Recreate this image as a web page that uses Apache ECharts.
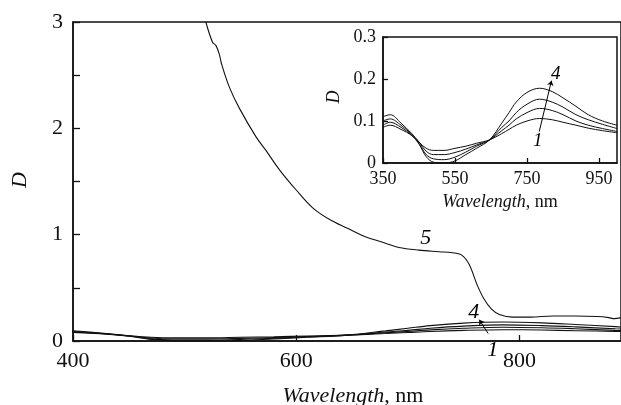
<!DOCTYPE html>
<html><head><meta charset="utf-8">
<script src="https://cdn.jsdelivr.net/npm/echarts@6/dist/echarts.min.js"></script>
<style>html,body{margin:0;padding:0;background:#fff}#c{width:621px;height:405px}</style>
</head><body><div id="c"></div>
<script>
// Curves 1-4 (shared wavelength grid), nm and optical density D
const wl14 = [350,370,400,430,450,470,490,520,550,580,610,646,680,700,720,750,785,820,850,886,920,960,1000];
const curve1 = [0.11,0.115,0.095,0.07,0.05,0.035,0.03,0.03,0.035,0.04,0.047,0.055,0.07,0.08,0.09,0.10,0.106,0.103,0.097,0.09,0.083,0.077,0.072];
const curve2 = [0.10,0.105,0.09,0.068,0.05,0.028,0.02,0.02,0.025,0.033,0.043,0.055,0.077,0.09,0.105,0.12,0.130,0.125,0.115,0.10,0.09,0.082,0.075];
const curve3 = [0.09,0.097,0.085,0.066,0.047,0.02,0.01,0.008,0.014,0.026,0.04,0.055,0.085,0.10,0.12,0.14,0.152,0.145,0.133,0.115,0.103,0.092,0.082];
const curve4 = [0.085,0.09,0.08,0.065,0.045,0.015,0.002,0.0,0.005,0.02,0.035,0.055,0.095,0.12,0.145,0.168,0.178,0.17,0.155,0.135,0.115,0.10,0.09];
// Curve 5
const wl5 = [519,525,528,531,533,540,549,564,573,585,600,615,632,650,662,680,692,710,728,740,748,755,762,768,775,782,794,810,830,850,870,880,885,891];
const curve5 = [3.0,2.81,2.78,2.70,2.61,2.39,2.19,1.92,1.79,1.61,1.42,1.25,1.13,1.04,0.98,0.92,0.88,0.855,0.84,0.83,0.81,0.72,0.53,0.40,0.30,0.25,0.225,0.225,0.235,0.235,0.23,0.22,0.21,0.22];
// Tick labels
const mainXTicks = [400,600,800];
const mainYTicks = [0,1,2,3];
const insetXTicks = [350,550,750,950];
const insetYTicks = [0,0.1,0.2,0.3];
// Curve labels [wavelength, D, text]
const mainLabels = [[716,0.97,'5'],[759,0.27,'4'],[776,-0.09,'1']];
const insetLabels = [[830,0.212,'4'],[780,0.053,'1']];
const mainArrow = [[772,0.07],[764,0.2]];
const insetArrow = [[784,0.075],[818,0.196]];

const FONT = 'Liberation Serif';
const zip = (xs, ys) => xs.map((x,i)=>[x, ys[i]]);
const curves = [curve1, curve2, curve3, curve4];

const lineStyle = {color:'#111', width:1.1, opacity:1};
const series = [];
curves.forEach(c => {
  series.push({type:'line', xAxisIndex:0, yAxisIndex:0, data:zip(wl14,c), showSymbol:false, smooth:0.35, lineStyle, silent:true, z:3});
});
series.push({type:'line', xAxisIndex:0, yAxisIndex:0, data:zip(wl5,curve5), showSymbol:false, smooth:0.35, lineStyle, silent:true, z:3});
curves.forEach(c => {
  series.push({type:'line', xAxisIndex:1, yAxisIndex:1, data:zip(wl14,c), showSymbol:false, smooth:0.35, lineStyle:{color:'#111', width:1, opacity:1}, silent:true, z:12});
});
series.push({type:'scatter', xAxisIndex:0, yAxisIndex:0, clip:false, symbolSize:0, itemStyle:{opacity:1},
  data: mainLabels.map(l=>({value:[l[0],l[1]], name:l[2]})),
  label:{show:true, position:'inside', formatter:p=>p.name, fontFamily:FONT, fontStyle:'italic', fontSize:22, color:'#000', opacity:1}, z:5});
series.push({type:'scatter', xAxisIndex:1, yAxisIndex:1, clip:false, symbolSize:0, itemStyle:{opacity:1},
  data: insetLabels.map(l=>({value:[l[0],l[1]], name:l[2]})),
  label:{show:true, position:'inside', formatter:p=>p.name, fontFamily:FONT, fontStyle:'italic', fontSize:19, color:'#000', opacity:1}, z:13});
series.push({type:'lines', coordinateSystem:'cartesian2d', xAxisIndex:0, yAxisIndex:0,
  data:[{coords:mainArrow}], symbol:['none','arrow'], symbolSize:5, lineStyle:{color:'#000', width:1, opacity:1}, z:5});
series.push({type:'lines', coordinateSystem:'cartesian2d', xAxisIndex:1, yAxisIndex:1,
  data:[{coords:insetArrow}], symbol:['none','arrow'], symbolSize:5, lineStyle:{color:'#000', width:1, opacity:1}, z:13});

const axLine = {lineStyle:{color:'#111', width:1.5}};
const chart = echarts.init(document.getElementById('c'), null, {renderer:'canvas'});
chart.setOption({
  animation:false,
  backgroundColor:'#fff',
  grid:[
    {left:73, top:22, right:-3, bottom:64, show:true, borderColor:'#111', borderWidth:1.5, z:1},
    {left:383, top:37, width:234, height:126, show:true, backgroundColor:'#fff', borderColor:'#111', borderWidth:1.5, z:10}
  ],
  xAxis:[
    {type:'value', gridIndex:0, min:400, max:891, interval:200,
      axisLine:axLine, axisTick:{inside:true, length:6, lineStyle:{color:'#111', width:1.3}},
      axisLabel:{fontFamily:FONT, fontSize:22, color:'#111', margin:9, customValues:mainXTicks, formatter:v=>String(v)},
      splitLine:{show:false}},
    {type:'value', gridIndex:1, min:350, max:1000, interval:200, z:11,
      axisLine:axLine, axisTick:{inside:true, length:5, customValues:insetXTicks, lineStyle:{color:'#111', width:1.3}},
      axisLabel:{fontFamily:FONT, fontSize:18, color:'#111', margin:7, customValues:insetXTicks, formatter:v=>String(v)},
      splitLine:{show:false}}
  ],
  yAxis:[
    {type:'value', gridIndex:0, min:0, max:3, interval:0.5,
      axisLine:axLine, axisTick:{inside:true, length:7, lineStyle:{color:'#111', width:1.3}},
      axisLabel:{fontFamily:FONT, fontSize:22, color:'#111', margin:10, customValues:mainYTicks, formatter:v=>String(v)},
      splitLine:{show:false}},
    {type:'value', gridIndex:1, min:0, max:0.3, interval:0.1, z:11,
      axisLine:axLine, axisTick:{inside:true, length:5, lineStyle:{color:'#111', width:1.3}},
      axisLabel:{fontFamily:FONT, fontSize:18, color:'#111', margin:7, customValues:insetYTicks, formatter:v=>v===0?'0':v.toFixed(1)},
      splitLine:{show:false}}
  ],
  graphic:[
    {type:'text', x:20, y:180, rotation:Math.PI/2, style:{text:'D', font:'italic 22px "Liberation Serif"', fill:'#111', align:'center', verticalAlign:'middle'}},
    {type:'text', x:353, y:396, style:{text:'{i|Wavelength}, nm', rich:{i:{fontStyle:'italic', fontFamily:FONT, fontSize:22}}, fontFamily:FONT, fontSize:22, fill:'#111', align:'center', verticalAlign:'middle'}},
    {type:'text', x:334, y:97, rotation:Math.PI/2, z:20, style:{text:'D', font:'italic 18px "Liberation Serif"', fill:'#111', align:'center', verticalAlign:'middle'}},
    {type:'text', x:500, y:202, z:20, style:{text:'{i|Wavelength}, nm', rich:{i:{fontStyle:'italic', fontFamily:FONT, fontSize:18}}, fontFamily:FONT, fontSize:18, fill:'#111', align:'center', verticalAlign:'middle'}}
  ],
  series
});
</script></body></html>
